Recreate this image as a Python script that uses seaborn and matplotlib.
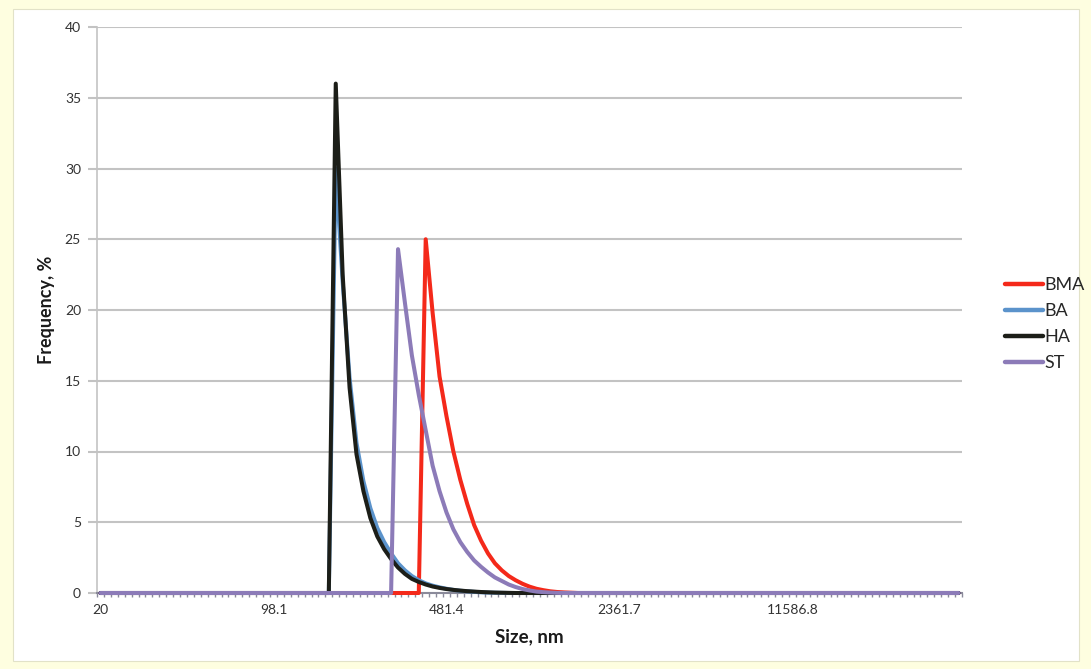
import numpy as np
import pandas as pd
import matplotlib
matplotlib.use("Agg")
import matplotlib.pyplot as plt
from matplotlib.patches import Rectangle
import seaborn as sns

# ---------------- data ----------------
n_categories = 125
x_tick_labels = ["20", "98.1", "481.4", "2361.7", "11586.8"]
x_label_every = 25

series_names = ["BMA", "BA", "HA", "ST"]
series_colors = ["#F4291A", "#5B93CB", "#1C1E18", "#8C7BB8"]

# non-zero stretches of each size distribution (start = first category index)
bma_start = 46
bma_values = [0, 25.0, 19.8, 15.3, 12.5, 10.0, 8.0, 6.3, 4.8, 3.7, 2.8, 2.1, 1.6,
              1.2, 0.9, 0.65, 0.45, 0.3, 0.2, 0.12, 0.07, 0.04, 0.02, 0]
ba_start = 33
ba_values = [0, 30.0, 22.0, 15.2, 10.6, 7.9, 6.0, 4.6, 3.6, 2.8, 2.1, 1.6, 1.2,
             0.9, 0.68, 0.52, 0.4, 0.3, 0.22, 0.16, 0.12, 0.08, 0.05, 0.03, 0.02,
             0.01, 0]
ha_start = 33
ha_values = [0, 36.0, 22.5, 14.5, 9.8, 7.2, 5.3, 4.0, 3.1, 2.4, 1.8, 1.35, 1.0,
             0.78, 0.6, 0.46, 0.36, 0.28, 0.22, 0.17, 0.13, 0.1, 0.07, 0.05, 0.03,
             0.02, 0.01, 0]
st_start = 42
st_values = [0, 24.3, 20.5, 16.8, 14.0, 11.5, 9.0, 7.2, 5.7, 4.5, 3.6, 2.9, 2.3,
             1.85, 1.45, 1.1, 0.85, 0.6, 0.42, 0.28, 0.18, 0.1, 0.06, 0.03, 0.01, 0]

starts = [bma_start, ba_start, ha_start, st_start]
values = [bma_values, ba_values, ha_values, st_values]

frames = []
for name, start, vals in zip(series_names, starts, values):
    full = np.zeros(n_categories)
    full[start:start + len(vals)] = vals
    frames.append(pd.DataFrame({"idx": np.arange(n_categories), "freq": full, "series": name}))
df = pd.concat(frames, ignore_index=True)

# ---------------- figure ----------------
sns.set_theme(style="white")
plt.rcParams["font.family"] = ["Lato", "DejaVu Sans"]

W, H = 1091, 669
fig = plt.figure(figsize=(W / 100, H / 100), dpi=100)
fig.patch.set_facecolor("#FEFEE0")
fig.add_artist(Rectangle((13 / W, 1 - 661 / H), (1079 - 13) / W, (661 - 9) / H,
                         transform=fig.transFigure, facecolor="white",
                         edgecolor="#E2E2C8", lw=0.8, zorder=0))

ax = fig.add_axes([97 / W, 1 - 593 / H, 865 / W, 566 / H])
ax.set_facecolor("white")

sns.lineplot(data=df, x="idx", y="freq", hue="series", hue_order=series_names,
             palette=series_colors, linewidth=2.9, sort=False, estimator=None,
             ax=ax, legend=True)
for ln in ax.lines:
    ln.set_clip_on(False)
    ln.set_zorder(3)

ax.set_xlim(-0.5, n_categories - 0.5)
ax.set_ylim(0, 40)
ax.set_yticks(np.arange(0, 41, 5))
ax.yaxis.grid(True, color="#C3C3C3", lw=1.5)
ax.xaxis.grid(False)
ax.set_axisbelow(True)

major_pos = np.arange(len(x_tick_labels)) * x_label_every
ax.set_xticks(major_pos)
ax.set_xticklabels(x_tick_labels)
ax.set_xticks(np.arange(-0.5, n_categories, 1.0), minor=True)
ax.tick_params(axis="x", which="major", length=0, pad=8, labelsize=10, labelcolor="#333333")
ax.tick_params(axis="x", which="minor", bottom=True, direction="out", length=3,
               width=1.0, color="#8A8A9A")
ax.tick_params(axis="y", which="major", left=True, direction="out", length=6.5,
               width=1.5, color="#C3C3C3", pad=5, labelsize=10, labelcolor="#333333")

for s in ["top", "right"]:
    ax.spines[s].set_visible(False)
ax.spines["left"].set_color("#C3C3C3")
ax.spines["left"].set_linewidth(1.2)
ax.spines["bottom"].set_color("#8A8A9A")
ax.spines["bottom"].set_linewidth(1.5)

ax.set_xlabel("Size, nm", fontsize=13.5, fontweight="bold", color="#1A1A1A", labelpad=9)
ax.set_ylabel("Frequency, %", fontsize=13, fontweight="bold", color="#1A1A1A", labelpad=7)

handles, labels = ax.get_legend_handles_labels()
leg = ax.legend(handles, labels, loc="center left",
                bbox_to_anchor=(1005 / W, 1 - 324 / H), bbox_transform=fig.transFigure,
                frameon=False, fontsize=13, handlelength=2.1, handletextpad=0.1,
                labelspacing=0.55, borderaxespad=0, borderpad=0)
for t in leg.get_texts():
    t.set_color("#262626")
for lh in leg.get_lines():
    lh.set_linewidth(3.2)

fig.savefig("out.png", dpi=100, facecolor=fig.get_facecolor())
